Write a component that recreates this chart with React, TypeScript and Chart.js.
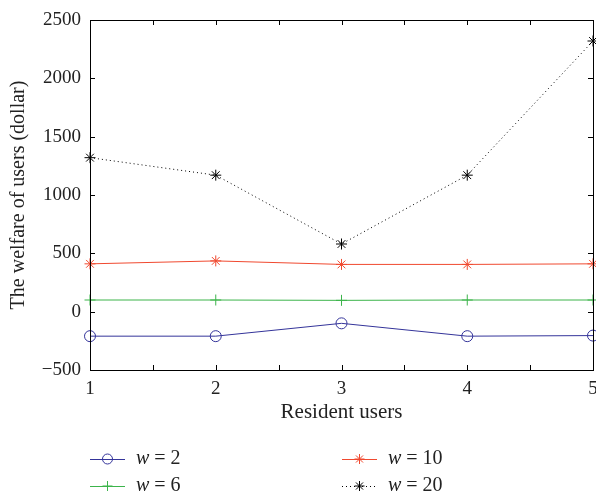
import React, { useEffect, useRef } from "react";
import { Chart, registerables } from "chart.js";
Chart.register(...registerables);

const residentUsers = [1, 2, 3, 4, 5];
const w2 = [-210, -210, -100, -210, -205];
const w6 = [100, 100, 97, 100, 100];
const w10 = [410, 435, 405, 405, 410];
const w20 = [1320, 1170, 580, 1170, 2320];
const wLabels = ["2", "6", "10", "20"];
const yTickValues = [-500, 0, 500, 1000, 1500, 2000, 2500];
const xTickValues = [1, 1.5, 2, 2.5, 3, 3.5, 4, 4.5, 5];
const xTitle = "Resident users";
const yTitle = "The welfare of users (dollar)";

const FONT = "'Liberation Serif', 'DejaVu Serif', serif";
const colors = ["#34349a", "#3cb44b", "#f0492f", "#000000"];
const styles = ["circle", "cross", "star", "star"];

function drawMarker(ctx: CanvasRenderingContext2D, style: string, x: number, y: number, r: number) {
  ctx.beginPath();
  if (style === "circle") {
    ctx.arc(x, y, r, 0, Math.PI * 2);
  } else if (style === "cross") {
    ctx.moveTo(x - r, y); ctx.lineTo(x + r, y);
    ctx.moveTo(x, y - r); ctx.lineTo(x, y + r);
  } else {
    ctx.moveTo(x - r, y); ctx.lineTo(x + r, y);
    ctx.moveTo(x, y - r); ctx.lineTo(x, y + r);
    const d = r * Math.SQRT1_2;
    ctx.moveTo(x - d, y - d); ctx.lineTo(x + d, y + d);
    ctx.moveTo(x - d, y + d); ctx.lineTo(x + d, y - d);
  }
  ctx.stroke();
}

const framePlugin = {
  id: "frame",
  afterDraw(chart: any) {
    const ctx: CanvasRenderingContext2D = chart.ctx;
    const { left, right, top, bottom } = chart.chartArea;
    const xs = chart.scales.x;
    const ys = chart.scales.y;
    ctx.save();
    ctx.strokeStyle = "#000";
    ctx.lineWidth = 1;
    ctx.setLineDash([]);
    ctx.strokeRect(Math.round(left) + 0.5, Math.round(top) + 0.5, Math.round(right - left), Math.round(bottom - top));
    const tl = 5;
    ctx.beginPath();
    yTickValues.forEach((v) => {
      const py = Math.round(ys.getPixelForValue(v)) + 0.5;
      ctx.moveTo(left, py); ctx.lineTo(left + tl, py);
      ctx.moveTo(right, py); ctx.lineTo(right - tl, py);
    });
    xTickValues.forEach((v) => {
      const px = Math.round(xs.getPixelForValue(v)) + 0.5;
      ctx.moveTo(px, bottom); ctx.lineTo(px, bottom - tl);
      ctx.moveTo(px, top); ctx.lineTo(px, top + tl);
    });
    ctx.stroke();

    // axis titles
    ctx.fillStyle = "#222";
    ctx.font = `21px ${FONT}`;
    ctx.textAlign = "center";
    ctx.textBaseline = "middle";
    ctx.fillText(xTitle, (left + right) / 2, 412);
    ctx.font = `20px ${FONT}`;
    ctx.save();
    ctx.translate(19, (top + bottom) / 2);
    ctx.rotate(-Math.PI / 2);
    ctx.fillText(yTitle, 0, 0);
    ctx.restore();

    // legend
    const cols = [90, 342];
    const rows = [459, 486];
    const order = [0, 2, 1, 3];
    order.forEach((di, k) => {
      const lx = cols[k % 2 === 0 ? 0 : 1];
      const ly = rows[Math.floor(k / 2)];
      const ds = chart.data.datasets[di];
      ctx.strokeStyle = ds.borderColor;
      ctx.lineWidth = 1;
      ctx.setLineDash(ds.borderDash || []);
      ctx.beginPath();
      ctx.moveTo(lx, ly + 0.5);
      ctx.lineTo(lx + 35, ly + 0.5);
      ctx.stroke();
      ctx.setLineDash([]);
      drawMarker(ctx, styles[di], lx + 17.5, ly, 5);
      ctx.fillStyle = "#222";
      ctx.textAlign = "left";
      ctx.textBaseline = "middle";
      ctx.font = `italic 20px ${FONT}`;
      const tx = lx + 46;
      ctx.fillText("w", tx, ly);
      const ww = ctx.measureText("w").width;
      ctx.font = `20px ${FONT}`;
      ctx.fillText(" = " + wLabels[di], tx + ww, ly);
    });
    ctx.restore();
  },
};

export default function App() {
  const ref = useRef<HTMLCanvasElement>(null);
  useEffect(() => {
    if (!ref.current) return;
    const series = [w2, w6, w10, w20];
    const chart = new Chart(ref.current, {
      type: "line",
      data: {
        datasets: series.map((s, i) => ({
          label: "w = " + wLabels[i],
          data: residentUsers.map((x, j) => ({ x, y: s[j] })),
          borderColor: colors[i],
          backgroundColor: "transparent",
          borderWidth: 1,
          borderDash: i === 3 ? [1, 3] : [],
          pointStyle: styles[i] as any,
          pointRadius: 5.5,
          pointBorderColor: colors[i],
          pointBackgroundColor: "transparent",
          pointBorderWidth: 1,
          tension: 0,
          clip: false as any,
        })),
      },
      options: {
        responsive: false,
        animation: false,
        layout: { autoPadding: false, padding: { left: 0, right: 3, top: 20, bottom: 0 } },
        plugins: { legend: { display: false }, tooltip: { enabled: false } },
        scales: {
          x: {
            type: "linear",
            min: 1,
            max: 5,
            afterFit: (s: any) => { s.height = 126; s.paddingLeft = 0; s.paddingRight = 0; },
            afterBuildTicks: (s: any) => { s.ticks = xTickValues.map((v) => ({ value: v })); },
            grid: { display: false, drawTicks: false },
            border: { display: false },
            ticks: {
              padding: 8,
              autoSkip: false,
              maxRotation: 0,
              color: "#222",
              font: { family: FONT, size: 19 },
              callback: (v: any) => (Number.isInteger(v) ? String(v) : ""),
            },
          },
          y: {
            type: "linear",
            min: -500,
            max: 2500,
            afterFit: (s: any) => { s.width = 90; s.paddingTop = 0; s.paddingBottom = 0; },
            afterBuildTicks: (s: any) => { s.ticks = yTickValues.map((v) => ({ value: v })); },
            grid: { display: false, drawTicks: false },
            border: { display: false },
            ticks: {
              padding: 9,
              color: "#222",
              font: { family: FONT, size: 19 },
              callback: (v: any) => String(v).replace("-", "\u2212"),
            },
          },
        },
      },
      plugins: [framePlugin],
    });
    return () => chart.destroy();
  }, []);
  return (
    <div style={{ position: "fixed", left: 0, top: 0, width: 596, height: 496, background: "#fff" }}>
      <canvas ref={ref} width={596} height={496} />
    </div>
  );
}
